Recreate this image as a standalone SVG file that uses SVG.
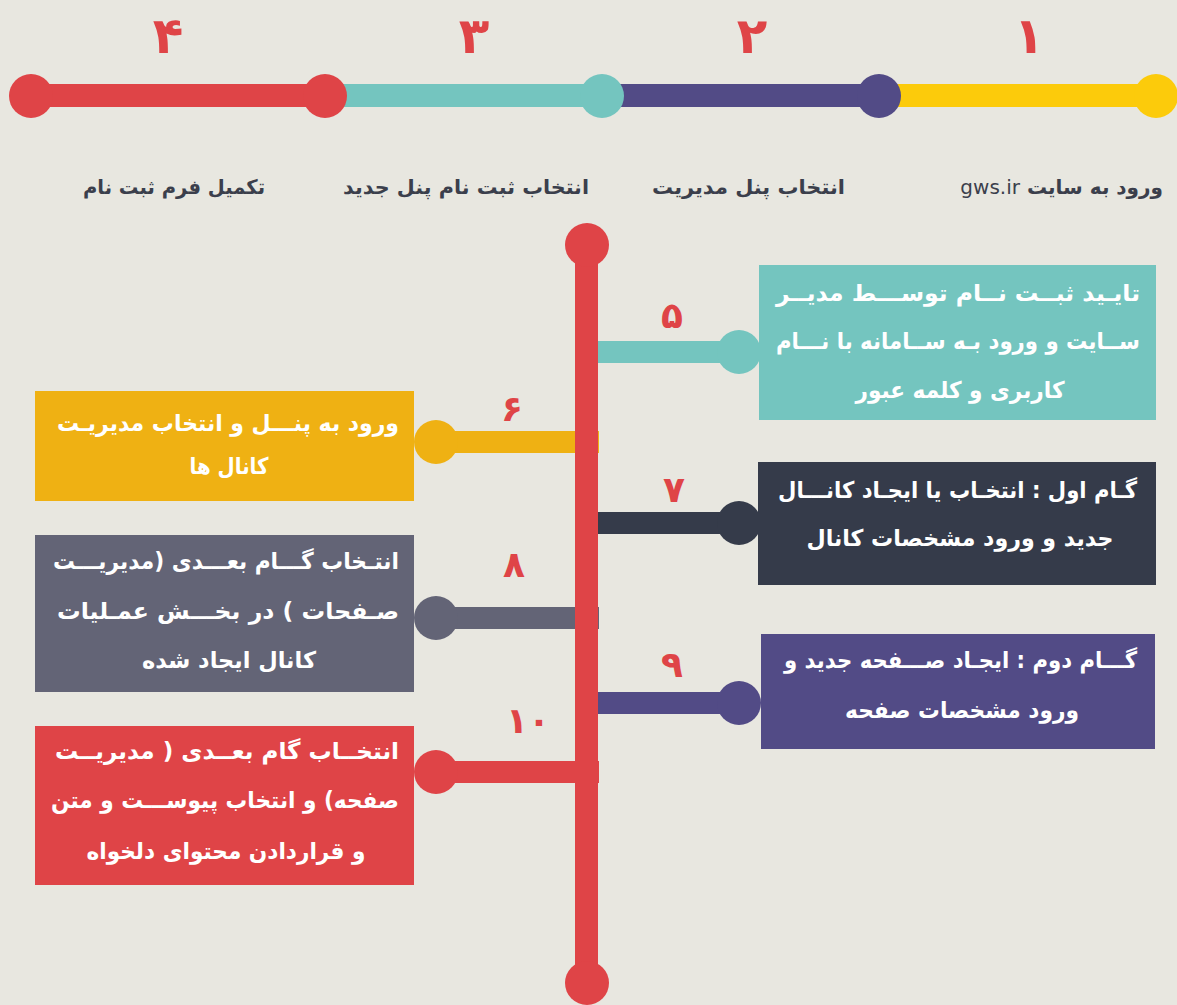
<svg xmlns="http://www.w3.org/2000/svg" width="1177" height="1005" viewBox="0 0 1177 1005">
<style>
.t{font-family:"DejaVu Sans","Noto Sans",sans-serif;direction:rtl;}
.lab{font-size:20px;font-weight:bold;fill:#3b3f4c;text-anchor:start;}
.num{fill:#df4447;text-anchor:middle;font-family:"DejaVu Sans",sans-serif;font-weight:bold;}
.big{font-size:50px;}
.sm{font-size:36px;}
.bx{font-size:23px;font-weight:bold;fill:#ffffff;}
.r{text-anchor:start;}
.c{text-anchor:middle;}
</style>
<rect width="1177" height="1005" fill="#e8e7e0"/>
<g id="connectors">
  <rect x="31" y="84" width="294" height="23" fill="#df4447"/>
  <rect x="325" y="84" width="278" height="23" fill="#74c5bf"/>
  <rect x="603" y="84" width="277" height="23" fill="#524b86"/>
  <rect x="880" y="84" width="277" height="23" fill="#fccb0b"/>
  <rect x="436" y="431" width="163" height="22" fill="#efb113"/>
  <rect x="436" y="607" width="163" height="22" fill="#636476"/>
  <rect x="436" y="761" width="163" height="22" fill="#df4447"/>
  <rect x="575" y="245" width="23" height="738" fill="#df4447"/>
  <rect x="598" y="341" width="141" height="22" fill="#74c5bf"/>
  <rect x="598" y="512" width="141" height="22" fill="#353b4a"/>
  <rect x="598" y="692" width="141" height="22" fill="#524b86"/>
</g>
<g id="step1"><circle cx="1156" cy="96" r="22" fill="#fccb0b"/><text class="num big" x="1029" y="53">۱</text><text class="t lab" x="1163" y="194">ورود به سایت <tspan font-weight="normal">gws.ir</tspan></text></g>
<g id="step2"><circle cx="879" cy="96" r="22" fill="#524b86"/><text class="num big" x="752" y="53">۲</text><text class="t lab" x="845" y="194" textLength="193" lengthAdjust="spacingAndGlyphs">انتخاب پنل مدیریت</text></g>
<g id="step3"><circle cx="602" cy="96" r="22" fill="#74c5bf"/><text class="num big" x="474" y="53">۳</text><text class="t lab" x="589" y="194" textLength="246" lengthAdjust="spacingAndGlyphs">انتخاب ثبت نام پنل جدید</text></g>
<g id="step4"><circle cx="325" cy="96" r="22" fill="#df4447"/><circle cx="31" cy="96" r="22" fill="#df4447"/><text class="num big" x="168" y="53">۴</text><text class="t lab" x="265" y="194" textLength="182" lengthAdjust="spacingAndGlyphs">تکمیل فرم ثبت نام</text></g>
<g id="spine-ends"><circle cx="587" cy="245" r="22" fill="#df4447"/><circle cx="587" cy="983" r="22" fill="#df4447"/></g>
<g id="step5">
  <circle cx="739" cy="352" r="22" fill="#74c5bf"/>
  <text class="num sm" x="672" y="328">۵</text>
  <rect x="759" y="265" width="397" height="155" fill="#74c5bf"/>
  <text class="t bx r" x="1140" y="301" textLength="364" lengthAdjust="spacingAndGlyphs">تایـید ثبــت نــام توســـط مدیــر</text>
  <text class="t bx r" x="1140" y="349" textLength="364" lengthAdjust="spacingAndGlyphs">ســایت و ورود بـه ســامانه با نـــام</text>
  <text class="t bx c" x="960" y="398" textLength="209" lengthAdjust="spacingAndGlyphs">کاربری و کلمه عبور</text>
</g>
<g id="step6">
  <circle cx="436" cy="442" r="22" fill="#efb113"/>
  <text class="num sm" x="512" y="421">۶</text>
  <rect x="35" y="391" width="379" height="110" fill="#efb113"/>
  <text class="t bx r" x="399" y="431" textLength="342" lengthAdjust="spacingAndGlyphs">ورود به پنـــل و انتخاب مدیریـت</text>
  <text class="t bx c" x="229" y="474" textLength="79" lengthAdjust="spacingAndGlyphs">کانال ها</text>
</g>
<g id="step7">
  <circle cx="739" cy="523" r="22" fill="#353b4a"/>
  <text class="num sm" x="674" y="502">۷</text>
  <rect x="758" y="462" width="398" height="123" fill="#353b4a"/>
  <text class="t bx r" x="1137" y="498" textLength="359" lengthAdjust="spacingAndGlyphs">گـام اول : انتخـاب یا ایجـاد کانـــال</text>
  <text class="t bx c" x="960" y="546" textLength="307" lengthAdjust="spacingAndGlyphs">جدید و ورود مشخصات کانال</text>
</g>
<g id="step8">
  <circle cx="436" cy="618" r="22" fill="#636476"/>
  <text class="num sm" x="514" y="577">۸</text>
  <rect x="35" y="535" width="379" height="157" fill="#636476"/>
  <text class="t bx r" x="399" y="569" textLength="346" lengthAdjust="spacingAndGlyphs">انتـخاب گـــام بعـــدی (مدیریـــت</text>
  <text class="t bx r" x="399" y="619" textLength="342" lengthAdjust="spacingAndGlyphs">صـفحات ) در  بخـــش عمـلیات</text>
  <text class="t bx c" x="229" y="668" textLength="174" lengthAdjust="spacingAndGlyphs">کانال  ایجاد شده</text>
</g>
<g id="step9">
  <circle cx="739" cy="703" r="22" fill="#524b86"/>
  <text class="num sm" x="672" y="677">۹</text>
  <rect x="761" y="634" width="394" height="115" fill="#524b86"/>
  <text class="t bx r" x="1137" y="668" textLength="353" lengthAdjust="spacingAndGlyphs">گـــام دوم : ایجـاد صـــفحه جدید و</text>
  <text class="t bx c" x="962" y="718" textLength="234" lengthAdjust="spacingAndGlyphs">ورود مشخصات صفحه</text>
</g>
<g id="step10">
  <circle cx="436" cy="772" r="22" fill="#df4447"/>
  <text class="num sm" x="528" y="733">۱۰</text>
  <rect x="35" y="726" width="379" height="159" fill="#df4447"/>
  <text class="t bx r" x="399" y="759" textLength="344" lengthAdjust="spacingAndGlyphs">انتخــاب گام بعــدی ( مدیریــت</text>
  <text class="t bx r" x="399" y="808" textLength="348" lengthAdjust="spacingAndGlyphs">صفحه)  و انتخاب پیوســـت و متن</text>
  <text class="t bx c" x="226" y="859" textLength="279" lengthAdjust="spacingAndGlyphs">و قراردادن محتوای دلخواه</text>
</g>
</svg>
